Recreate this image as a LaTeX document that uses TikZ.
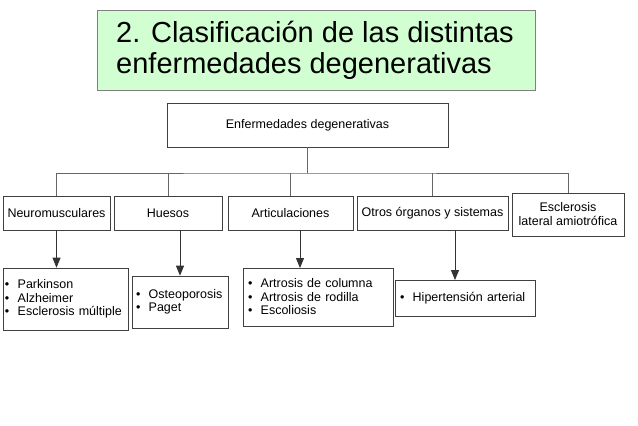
\documentclass[tikz,border=0pt]{standalone}
\usepackage{fontspec}
\setmainfont{Liberation Sans}
\usetikzlibrary{arrows.meta}
\begin{document}
\begin{tikzpicture}[x=1pt,y=-1pt,
 box/.style={draw=black!75,line width=0.6pt,fill=white,inner sep=0pt,font=\fontsize{12.5}{14}\selectfont,align=center},
 lst/.style={draw=black!75,line width=0.6pt,fill=white,inner sep=0pt,font=\fontsize{12.5}{13.5}\selectfont,align=left},
 ln/.style={draw=black!60,line width=0.7pt},
 arr/.style={draw=black!80,line width=0.9pt,-{Triangle[length=10pt,width=8pt]}}]
\useasboundingbox (0,0) rectangle (638,426);
\node[draw=black!50,fill=green!18,minimum width=438pt,minimum height=80pt,inner sep=0pt] (t) at (316,50) {};
\node[anchor=west,align=left,inner sep=0pt,font=\fontsize{29}{31}\selectfont] (tt) at (116,50) {2. Clasificación de las distintas\\ enfermedades degenerativas};
\node[box,minimum width=281pt,minimum height=44pt] (top) at (307.5,125) {Enfermedades degenerativas};
\node[box,minimum width=107pt,minimum height=34pt] (n) at (56.5,213) {Neuromusculares};
\node[box,minimum width=108pt,minimum height=34pt] (h) at (168,213) {Huesos};
\node[box,minimum width=125pt,minimum height=34pt] (a) at (290.5,213) {Articulaciones};
\node[box,minimum width=151pt,minimum height=34pt] (o) at (432.5,213) {Otros órganos y sistemas};
\node[box,minimum width=112pt,minimum height=43pt] (e) at (568,214.5) {Esclerosis\\lateral amiotrófica};
\coordinate (b) at (307.5,173);
\draw[ln] (top.south) -- (b);
\draw[ln] (n.north) |- (b) -| (e.north);
\draw[ln] (h.north) -- (h.north|-b);
\draw[ln] (a.north) -- (a.north|-b);
\draw[ln] (o.north) -- (o.north|-b);
\node[lst,minimum width=125pt,minimum height=62pt,text width=121pt] (ln1) at (65.5,299) {• \ Parkinson\\• \ Alzheimer\\• \ Esclerosis múltiple};
\node[lst,minimum width=96pt,minimum height=52pt,text width=88pt] (lh) at (180,302) {• \ Osteoporosis\\• \ Paget};
\node[lst,minimum width=150pt,minimum height=58pt,text width=140pt] (la) at (318,297) {• \ Artrosis de columna\\• \ Artrosis de rodilla\\• \ Escoliosis};
\node[lst,minimum width=140pt,minimum height=36pt,text width=130pt] (lo) at (465,298) {• \ Hipertensión arterial};
\draw[arr] (n.south) -- (n.south|-ln1.north);
\draw[arr] (h.south-|lh.north) -- (lh.north);
\draw[arr] (a.south-|300,0) -- (300,268);
\draw[arr] (o.south-|455,0) -- (455,280);
\end{tikzpicture}
\end{document}
